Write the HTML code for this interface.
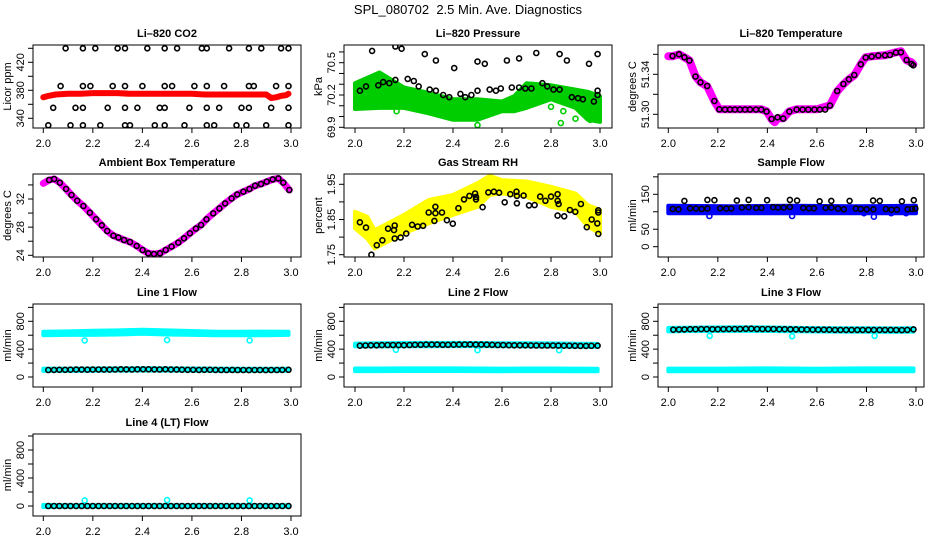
<!DOCTYPE html>
<html><head><meta charset="utf-8">
<style>
html,body{margin:0;padding:0;background:#fff;}
svg{display:block;font-family:"Liberation Sans",Arial,sans-serif;}
</style></head>
<body>
<svg id="chart" width="936" height="540" viewBox="0 0 936 540" xmlns="http://www.w3.org/2000/svg">
<rect x="0" y="0" width="936" height="540" fill="#fff"/>
<text x="468" y="14" text-anchor="middle" font-size="13">SPL_080702&#160; 2.5 Min. Ave. Diagnostics</text>
</svg>
<script>
// ---------- DATA ----------
const xTicks = [2.0, 2.2, 2.4, 2.6, 2.8, 3.0];
const xTickLabels = ["2.0", "2.2", "2.4", "2.6", "2.8", "3.0"];

// Li-820 CO2
const co2RedT = [2.0,2.02,2.05,2.1,2.15,2.2,2.25,2.3,2.35,2.4,2.45,2.5,2.55,2.6,2.65,2.7,2.75,2.8,2.85,2.9,2.92,2.94,2.96,2.98,2.99];
const co2RedV = [370,372,374,375,375,376,376,376,375,375,375,375,375,375,374,374,374,374,374,374,369,370,372,373,375];
const co2BlackT = [2.09,2.16,2.21,2.30,2.33,2.42,2.49,2.54,2.64,2.66,2.75,2.83,2.88,2.96,2.99,
 2.07,2.16,2.19,2.28,2.33,2.40,2.49,2.52,2.61,2.66,2.73,2.83,2.85,2.94,2.99,
 2.04,2.13,2.16,2.26,2.33,2.38,2.47,2.49,2.59,2.66,2.71,2.80,2.83,2.92,2.99,
 2.02,2.11,2.16,2.23,2.33,2.35,2.45,2.49,2.57,2.66,2.69,2.78,2.82,2.90,2.99];
const co2BlackV = [440,440,440,440,440,440,440,440,440,440,440,440,440,440,440,
 386,386,386,386,386,386,386,386,386,386,386,386,386,386,386,
 355,355,355,355,355,355,355,355,355,355,355,355,355,355,355,
 330,330,330,330,330,330,330,330,330,330,330,330,330,330,330];

// Li-820 Pressure
const presBandT = [2.0,2.1,2.2,2.3,2.4,2.5,2.6,2.65,2.7,2.8,2.9,2.95,3.0];
const presBandTop = [70.31,70.41,70.27,70.22,70.16,70.16,70.14,70.19,70.31,70.29,70.25,70.23,70.19];
const presBandBot = [70.07,70.08,70.08,70.03,69.97,69.97,70.05,70.05,70.08,70.16,70.08,69.97,69.95];
const presGreenOutT = [2.17,2.5,2.8,2.84,2.9,2.85,2.96,2.99];
const presGreenOutV = [70.05,69.92,70.09,69.94,69.98,70.05,69.97,69.99];
const presBlackT = [2.02,2.045,2.07,2.095,2.115,2.14,2.165,2.165,2.19,2.215,2.24,2.26,2.285,2.305,2.33,2.33,2.36,2.385,2.405,2.43,2.45,2.475,2.50,2.50,2.53,2.55,2.575,2.595,2.62,2.64,2.67,2.67,2.695,2.72,2.74,2.765,2.785,2.81,2.835,2.835,2.865,2.885,2.91,2.93,2.955,2.975,2.99,2.99,2.99];
const presBlackV = [70.24,70.28,70.61,70.29,70.32,70.31,70.65,70.34,70.63,70.35,70.33,70.28,70.58,70.25,70.52,70.24,70.20,70.18,70.45,70.21,70.18,70.20,70.51,70.24,70.49,70.25,70.24,70.26,70.52,70.27,70.54,70.27,70.26,70.26,70.59,70.31,70.28,70.25,70.58,70.25,70.52,70.18,70.17,70.16,70.49,70.14,70.58,70.24,70.20];

// Li-820 Temperature
const ltMagT = [2.0,2.017,2.043,2.065,2.085,2.11,2.13,2.157,2.186,2.206,2.229,2.3,2.375,2.397,2.417,2.43,2.441,2.464,2.489,2.518,2.6,2.653,2.682,2.707,2.729,2.751,2.777,2.797,2.821,2.875,2.919,2.939,2.962,2.982,2.989];
const ltMagV = [51.358,51.358,51.360,51.357,51.354,51.338,51.332,51.328,51.313,51.305,51.305,51.305,51.305,51.303,51.295,51.292,51.296,51.296,51.303,51.305,51.305,51.309,51.323,51.330,51.335,51.339,51.350,51.357,51.358,51.359,51.362,51.363,51.354,51.352,51.350];
const ltBlackT = [2.017,2.043,2.065,2.085,2.11,2.13,2.157,2.186,2.206,2.229,2.249,2.269,2.289,2.31,2.33,2.354,2.375,2.397,2.417,2.441,2.464,2.489,2.518,2.542,2.565,2.59,2.612,2.633,2.653,2.682,2.707,2.729,2.751,2.777,2.797,2.821,2.848,2.875,2.895,2.919,2.939,2.962,2.982,2.989];
const ltBlackV = [51.3583,51.360,51.357,51.3537,51.3377,51.332,51.3283,51.3133,51.305,51.3047,51.3047,51.3047,51.3047,51.3047,51.3047,51.3047,51.3047,51.3027,51.2953,51.297,51.2957,51.3027,51.3047,51.3047,51.3047,51.3047,51.3047,51.3047,51.3087,51.3233,51.3303,51.335,51.3393,51.350,51.3567,51.3577,51.3587,51.359,51.3593,51.3617,51.362,51.3543,51.3503,51.349];

// Ambient Box Temperature
const abT = [2.0,2.024,2.044,2.067,2.092,2.114,2.137,2.162,2.188,2.213,2.236,2.258,2.283,2.303,2.326,2.35,2.377,2.401,2.424,2.447,2.471,2.494,2.518,2.545,2.568,2.592,2.616,2.637,2.659,2.686,2.711,2.734,2.76,2.783,2.808,2.832,2.855,2.879,2.902,2.926,2.949,2.969,2.993];
const abV = [34.22,34.70,34.84,34.32,33.42,32.57,31.76,31.01,30.06,29.11,28.26,27.46,26.79,26.51,26.18,25.89,25.33,24.76,24.28,24.19,24.28,24.76,25.23,25.80,26.41,27.12,27.79,28.31,29.11,29.96,30.67,31.38,32.09,32.66,33.04,33.42,33.89,34.13,34.46,34.79,34.93,34.32,33.28];

// Gas Stream RH
const rhBandT = [2.0,2.05,2.08,2.12,2.2,2.3,2.4,2.5,2.55,2.6,2.7,2.8,2.9,2.95,3.0];
const rhBandTop = [1.872,1.858,1.820,1.834,1.863,1.905,1.920,1.953,1.974,1.962,1.958,1.943,1.924,1.891,1.877];
const rhBandBot = [1.825,1.796,1.768,1.782,1.811,1.839,1.863,1.886,1.920,1.924,1.915,1.886,1.872,1.830,1.811];
const rhBlackT = [2.020,2.045,2.067,2.089,2.112,2.135,2.159,2.162,2.162,2.186,2.209,2.233,2.256,2.278,2.301,2.324,2.328,2.328,2.355,2.375,2.399,2.422,2.445,2.467,2.49,2.494,2.494,2.521,2.544,2.567,2.588,2.611,2.634,2.659,2.661,2.661,2.688,2.71,2.733,2.756,2.777,2.8,2.827,2.827,2.827,2.831,2.854,2.877,2.899,2.922,2.946,2.966,2.989,2.993,2.993,2.993];
const rhBlackV = [1.842,1.827,1.750,1.777,1.791,1.824,1.820,1.796,1.833,1.799,1.810,1.835,1.830,1.832,1.870,1.846,1.868,1.886,1.870,1.848,1.838,1.882,1.907,1.917,1.924,1.907,1.914,1.885,1.927,1.929,1.926,1.899,1.922,1.929,1.896,1.917,1.918,1.890,1.891,1.915,1.903,1.915,1.922,1.903,1.861,1.894,1.859,1.877,1.872,1.894,1.828,1.850,1.839,1.876,1.870,1.809];

// Sample Flow
const sfBandT = [2.0,2.25,2.5,2.75,3.0];
const sfBandTop = [117,116,117,116,117];
const sfBandBot = [96,96,96,96,96];
const sfBlueOutT = [2.166,2.5,2.79,2.83,2.9,2.96];
const sfBlueOutV = [88,88,96,86,96,96];
const sfBlackT = [2.018,2.041,2.088,2.112,2.135,2.158,2.209,2.234,2.254,2.297,2.324,2.355,2.376,2.423,2.443,2.466,2.491,2.545,2.568,2.588,2.635,2.658,2.685,2.709,2.757,2.777,2.801,2.828,2.878,2.901,2.923,2.966,2.984,2.997,
 2.065,2.158,2.186,2.277,2.324,2.399,2.491,2.52,2.611,2.658,2.732,2.827,2.854,2.943,2.991];
const sfBlackV = [108,107,110,109,108,109,110,109,109,112,113,111,111,113,112,112,114,111,110,110,111,112,109,107,109,108,107,107,108,106,106,107,108,109,
 131,134,133,132,134,133,134,132,130,131,131,132,131,130,133];

// Flow lines (times of the black circles)
const flowT = [2.02,2.043,2.065,2.088,2.11,2.133,2.155,2.178,2.2,2.223,2.245,2.268,2.29,2.313,2.335,2.358,2.38,2.403,2.425,2.448,2.47,2.493,2.515,2.538,2.56,2.583,2.605,2.628,2.65,2.673,2.695,2.718,2.74,2.763,2.785,2.808,2.83,2.853,2.875,2.898,2.92,2.943,2.965,2.99];
const bandT = [2.0,2.1,2.2,2.3,2.4,2.5,2.6,2.7,2.8,2.9,2.99];
const outT = [2.167,2.5,2.833];

const l1Black = [100,102,104,103,105,106,107,105,106,108,107,106,108,110,109,108,110,111,110,109,108,110,107,106,105,104,103,102,104,103,102,101,100,102,101,100,99,101,100,99,101,100,102,103];
const l1CyanTop = [650,655,665,670,680,670,660,650,650,652,650];
const l1CyanBot = [600,605,605,610,620,610,605,600,600,600,605];
const l1LowTop = [120,120,122,124,125,124,122,120,118,118,118];
const l1LowBot = [88,88,90,92,92,92,90,88,88,88,88];
const l1Out = [525,530,525];

const l2Black = [450,452,455,456,458,460,460,458,457,460,462,463,465,466,465,463,462,464,466,467,468,466,465,464,462,460,458,457,456,455,455,454,453,452,453,452,451,450,450,448,446,446,448,450];
const l2CyanTop = [480,485,488,490,490,488,486,484,482,478,476];
const l2CyanBot = [440,440,442,442,444,444,442,440,438,435,432];
const l2LowTop = [122,122,124,124,124,122,120,122,122,120,118];
const l2LowBot = [85,85,86,86,86,85,84,85,85,84,84];
const l2Out = [390,385,385];

const l3Black = [680,682,684,686,687,688,688,686,686,688,689,690,690,692,694,690,689,690,689,687,686,685,684,682,681,680,680,680,679,676,676,676,676,676,677,677,677,676,676,676,675,674,676,684];
const l3CyanTop = [705,710,712,714,712,708,702,700,700,698,700];
const l3CyanBot = [655,660,660,662,660,658,654,652,650,648,652];
const l3LowTop = [120,120,120,122,124,122,118,122,124,124,124];
const l3LowBot = [82,82,82,82,84,82,80,82,84,84,84];
const l3Out = [590,585,590];

const l4Black = [0,0,0,0,0,0,0,0,0,0,0,0,0,0,0,0,0,0,0,0,0,0,0,0,0,0,0,0,0,0,0,0,0,0,0,0,0,0,0,0,0,0,0,0];
const l4CyanTop = [15,12,12,12,12,12,12,12,12,12,12];
const l4CyanBot = [-15,-12,-12,-12,-12,-12,-12,-12,-12,-12,-12];
const l4Out = [80,85,80];

const flowTicks = [0,200,400,600,800,1000];
const flowTickLabels = ["0","","400","","800",""];

// ---------- DRAWING ----------
const svg = document.getElementById('chart');
const NS = 'http://www.w3.org/2000/svg';
function mk(tag, attrs, parent){
  const el = document.createElementNS(NS, tag);
  for (const k in attrs) el.setAttribute(k, attrs[k]);
  (parent || svg).appendChild(el);
  return el;
}
function fmt(v){ return v.toFixed(1); }

function makePanel(cfg){
  const g = mk('g', {});
  
  
  const L = cfg.box[0], T = cfg.box[1], R = cfg.box[2], B = cfg.box[3];
  const xs = v => cfg.xr[1] + (v - 2) * (cfg.xr[3] - cfg.xr[1]) / (cfg.xr[2] - cfg.xr[0]);
  const ys = v => cfg.yr[1] + (v - cfg.yr[0]) * (cfg.yr[3] - cfg.yr[1]) / (cfg.yr[2] - cfg.yr[0]);
  const clipId = 'clip-' + cfg.name;
  const cp = mk('clipPath', {id: clipId}, g);
  mk('rect', {x: L, y: T, width: R - L, height: B - T}, cp);
  const plot = mk('g', {'clip-path': 'url(#' + clipId + ')'}, g);
  
  
  const title = mk('text', {x: (L + R) / 2, y: T - 8, 'text-anchor': 'middle', 'font-size': 11, 'font-weight': 'bold'}, g);
  title.textContent = cfg.title;
  
  
  const box = mk('rect', {x: L, y: T, width: R - L, height: B - T, fill: 'none', stroke: '#000', 'stroke-width': 1}, g);
  
  
  const xa = mk('g', {}, g);
  
  
  xTicks.forEach((t, i) => {
    const x = xs(t);
    mk('line', {x1: x, x2: x, y1: B, y2: B + 5, stroke: '#000'}, xa);
    const tl = mk('text', {x: x, y: B + 19, 'text-anchor': 'middle', 'font-size': 11}, xa);
    tl.textContent = xTickLabels[i];
    
    
  });
  mk('line', {x1: xs(xTicks[0]), x2: xs(xTicks[xTicks.length - 1]), y1: B, y2: B, stroke: '#000'}, xa);
  const ya = mk('g', {}, g);
  
  
  cfg.yTicks.forEach((t, i) => {
    const y = ys(t);
    mk('line', {x1: L - 5, x2: L, y1: y, y2: y, stroke: '#000'}, ya);
    if (cfg.yLabels[i]) {
      const tl = mk('text', {x: L - 9, y: y, 'text-anchor': 'middle', 'font-size': 11, transform: 'rotate(-90 ' + (L - 9) + ' ' + y + ')'}, ya);
      tl.textContent = cfg.yLabels[i];
      
      
    }
  });
  mk('line', {x1: L, x2: L, y1: ys(cfg.yTicks[0]), y2: ys(cfg.yTicks[cfg.yTicks.length - 1]), stroke: '#000'}, ya);
  const yl = mk('text', {x: L - 22, y: (T + B) / 2, 'text-anchor': 'middle', 'font-size': 11, transform: 'rotate(-90 ' + (L - 22) + ' ' + ((T + B) / 2) + ')'}, g);
  yl.textContent = cfg.ylab;
  
  
  return {plot, xs, ys};
}

function band(p, name, ts, tops, bots, color){
  let d = '';
  ts.forEach((t, i) => { d += (i ? 'L' : 'M') + fmt(p.xs(t)) + ',' + fmt(p.ys(tops[i])); });
  for (let i = ts.length - 1; i >= 0; i--) d += 'L' + fmt(p.xs(ts[i])) + ',' + fmt(p.ys(bots[i]));
  d += 'Z';
  const el = mk('path', {d: d, fill: color, stroke: color, 'stroke-width': 4, 'stroke-linejoin': 'round'}, p.plot);
  
  
}
function thickLine(p, name, ts, vs, color, w){
  let d = '';
  ts.forEach((t, i) => { d += (i ? 'L' : 'M') + fmt(p.xs(t)) + ',' + fmt(p.ys(vs[i])); });
  const el = mk('path', {d: d, fill: 'none', stroke: color, 'stroke-width': w, 'stroke-linejoin': 'round', 'stroke-linecap': 'round'}, p.plot);
  
  
}
function points(p, name, ts, vs, color){
  const g = mk('g', {}, p.plot);
  
  
  ts.forEach((t, i) => {
    const c = mk('circle', {cx: fmt(p.xs(t)), cy: fmt(p.ys(vs[i])), r: 2.5, fill: 'none', stroke: color, 'stroke-width': 1.6}, g);
    
    
  });
}

const COL = [{box:[33,301], xr:[2,43.3,3,291]}, {box:[344,612], xr:[2,355,3,600]}, {box:[658,924], xr:[2,668.3,3,916]}];
const ROW = [[45,128],[174,257],[304,387],[434,516]];
function cfgFor(c, r, o){ return Object.assign({box:[COL[c].box[0], ROW[r][0], COL[c].box[1], ROW[r][1]], xr: COL[c].xr}, o); }

let p = makePanel(cfgFor(0,0,{name:'li820-co2', title:'Li\u2013820 CO2', ylab:'Licor ppm', yr:[340,118.3,420,62.3], yTicks:[340,360,380,400,420,440], yLabels:['340','','380','','420','']}));
thickLine(p, 'co2-red-series', co2RedT, co2RedV, '#ff0000', 6);
points(p, 'co2-black-points', co2BlackT, co2BlackV, '#000');

p = makePanel(cfgFor(1,0,{name:'li820-pressure', title:'Li\u2013820 Pressure', ylab:'kPa', yr:[69.9,127.3,70.5,62.7], yTicks:[69.9,70.0,70.1,70.2,70.3,70.4,70.5,70.6], yLabels:['69.9','','','70.2','','','70.5','']}));
band(p, 'pressure-green-band', presBandT, presBandTop, presBandBot, '#00cd00');
points(p, 'pressure-green-outliers', presGreenOutT, presGreenOutV, '#00cd00');
points(p, 'pressure-black-points', presBlackT, presBlackV, '#000');

p = makePanel(cfgFor(2,0,{name:'li820-temperature', title:'Li\u2013820 Temperature', ylab:'degrees C', yr:[51.30,114.3,51.34,74.3], yTicks:[51.30,51.32,51.34,51.36], yLabels:['51.30','','51.34','']}));
thickLine(p, 'li820-temp-magenta-series', ltMagT, ltMagV, '#ff00ff', 8);
points(p, 'li820-temp-black-points', ltBlackT, ltBlackV, '#000');

p = makePanel(cfgFor(0,1,{name:'ambient-box-temperature', title:'Ambient Box Temperature', ylab:'degrees C', yr:[24,255.3,32,199], yTicks:[24,26,28,30,32,34], yLabels:['24','','28','','32','']}));
thickLine(p, 'ambient-magenta-series', abT, abV, '#ff00ff', 7);
points(p, 'ambient-black-points', abT.slice(1), abV.slice(1), '#000');

p = makePanel(cfgFor(1,1,{name:'gas-stream-rh', title:'Gas Stream RH', ylab:'percent', yr:[1.75,254.7,1.95,184.3], yTicks:[1.75,1.80,1.85,1.90,1.95], yLabels:['1.75','','1.85','','1.95']}));
band(p, 'rh-yellow-band', rhBandT, rhBandTop, rhBandBot, '#ffff00');
points(p, 'rh-black-points', rhBlackT, rhBlackV, '#000');

p = makePanel(cfgFor(2,1,{name:'sample-flow', title:'Sample Flow', ylab:'ml/min', yr:[0,246.7,150,194.3], yTicks:[0,50,100,150,200], yLabels:['0','50','','150','']}));
band(p, 'sample-flow-blue-band', sfBandT, sfBandTop, sfBandBot, '#0000ff');
points(p, 'sample-flow-blue-outliers', sfBlueOutT, sfBlueOutV, '#0000ff');
points(p, 'sample-flow-black-points', sfBlackT, sfBlackV, '#000');

const flowCfg = [
  {c:0,r:2,name:'line-1-flow',title:'Line 1 Flow', black:l1Black, top:l1CyanTop, bot:l1CyanBot, lowTop:l1LowTop, lowBot:l1LowBot, out:l1Out},
  {c:1,r:2,name:'line-2-flow',title:'Line 2 Flow', black:l2Black, top:l2CyanTop, bot:l2CyanBot, lowTop:l2LowTop, lowBot:l2LowBot, out:l2Out},
  {c:2,r:2,name:'line-3-flow',title:'Line 3 Flow', black:l3Black, top:l3CyanTop, bot:l3CyanBot, lowTop:l3LowTop, lowBot:l3LowBot, out:l3Out},
  {c:0,r:3,name:'line-4-lt-flow',title:'Line 4 (LT) Flow', black:l4Black, top:l4CyanTop, bot:l4CyanBot, lowTop:null, lowBot:null, out:l4Out}
];
flowCfg.forEach(f => {
  const y0 = f.r === 2 ? 377 : 506, y8 = f.r === 2 ? 321.3 : 450;
  const q = makePanel(cfgFor(f.c, f.r, {name:f.name, title:f.title, ylab:'ml/min', yr:[0,y0,800,y8], yTicks:flowTicks, yLabels:flowTickLabels}));
  band(q, f.name + '-cyan-band', bandT, f.top, f.bot, '#00ffff');
  if (f.lowTop) band(q, f.name + '-cyan-low-band', bandT, f.lowTop, f.lowBot, '#00ffff');
  points(q, f.name + '-cyan-outliers', outT, f.out, '#00ffff');
  points(q, f.name + '-black-points', flowT, f.black, '#000');
});
</script>
</body></html>
